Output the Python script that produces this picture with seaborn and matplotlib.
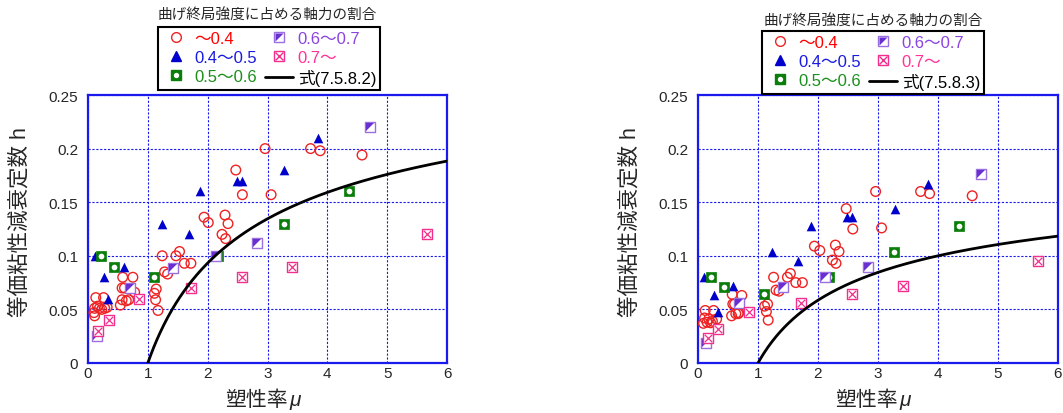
import numpy as np
import matplotlib.pyplot as plt
from matplotlib.lines import Line2D
import seaborn as sns

# ---------------- data (mu, h) ----------------
# left panel  -> 式(7.5.8.2)
l_red_mu = [2.96, 3.72, 3.88, 4.58, 2.47, 2.58, 3.06, 1.94, 2.01, 2.29, 2.34, 2.24, 2.30,
            1.24, 1.47, 1.53, 1.61, 1.72, 1.28, 1.33, 1.14, 1.11, 1.13, 1.17,
            0.58, 0.75, 0.57, 0.61, 0.78, 0.57, 0.64, 0.68, 0.54,
            0.13, 0.26, 0.11, 0.16, 0.19, 0.23, 0.28, 0.32, 0.10, 0.11]
l_red_h = [0.200, 0.200, 0.198, 0.194, 0.180, 0.157, 0.157, 0.136, 0.131, 0.138, 0.130, 0.120, 0.116,
           0.100, 0.100, 0.104, 0.093, 0.093, 0.085, 0.083, 0.069, 0.065, 0.059, 0.049,
           0.080, 0.080, 0.070, 0.070, 0.066, 0.059, 0.058, 0.059, 0.054,
           0.061, 0.061, 0.051, 0.053, 0.051, 0.050, 0.051, 0.052, 0.047, 0.044]
l_blue_mu = [3.84, 3.28, 2.49, 2.57, 1.87, 1.24, 1.68, 0.11, 0.60, 0.27, 0.34]
l_blue_h = [0.210, 0.180, 0.170, 0.170, 0.160, 0.130, 0.120, 0.100, 0.090, 0.080, 0.060]
l_green_mu = [0.22, 0.43, 1.10, 2.18, 3.27, 4.36]
l_green_h = [0.100, 0.090, 0.080, 0.100, 0.130, 0.160]
l_purple_mu = [0.15, 0.71, 1.42, 2.14, 2.83, 4.71]
l_purple_h = [0.025, 0.070, 0.089, 0.100, 0.112, 0.220]
l_pink_mu = [0.17, 0.35, 0.86, 1.72, 2.57, 3.41, 5.66]
l_pink_h = [0.030, 0.040, 0.060, 0.070, 0.080, 0.090, 0.120]

# right panel -> 式(7.5.8.3)
r_red_mu = [0.12, 0.26, 0.11, 0.18, 0.24, 0.31, 0.09, 0.15, 0.21,
            0.57, 0.73, 0.58, 0.61, 0.56, 0.63, 0.67, 0.68,
            1.11, 1.16, 1.14, 1.17,
            1.26, 1.30, 1.35, 1.49, 1.54, 1.63, 1.74,
            1.94, 2.03, 2.29, 2.35, 2.24, 2.30, 2.47, 2.58, 3.06, 2.96, 3.71, 3.86, 4.57]
r_red_h = [0.049, 0.049, 0.042, 0.041, 0.039, 0.041, 0.037, 0.038, 0.0375,
           0.064, 0.063, 0.055, 0.055, 0.044, 0.046, 0.046, 0.047,
           0.053, 0.055, 0.048, 0.040,
           0.080, 0.068, 0.067, 0.080, 0.0835, 0.075, 0.075,
           0.109, 0.105, 0.110, 0.104, 0.096, 0.093, 0.144, 0.125, 0.126, 0.160, 0.160, 0.158, 0.156]
r_blue_mu = [3.83, 3.28, 2.49, 2.57, 1.88, 1.24, 1.67, 0.105, 0.59, 0.26, 0.34]
r_blue_h = [0.167, 0.144, 0.136, 0.136, 0.128, 0.104, 0.095, 0.080, 0.072, 0.063, 0.048]
r_green_mu = [0.22, 0.43, 1.10, 2.19, 3.27, 4.35]
r_green_h = [0.080, 0.071, 0.064, 0.080, 0.104, 0.128]
r_purple_mu = [0.14, 0.69, 1.42, 2.12, 2.84, 4.71]
r_purple_h = [0.019, 0.056, 0.071, 0.080, 0.090, 0.176]
r_pink_mu = [0.16, 0.33, 0.85, 1.72, 2.57, 3.42, 5.66]
r_pink_h = [0.023, 0.032, 0.048, 0.056, 0.064, 0.072, 0.095]

legend_title = "曲げ終局強度に占める軸力の割合"
group_labels = ["～0.4", "0.4～0.5", "0.5～0.6", "0.6～0.7", "0.7～"]
eq_labels = ["式(7.5.8.2)", "式(7.5.8.3)"]
eq_coef = [1 / np.pi, 0.2]          # h = c * (1 - 1/sqrt(mu))
yticks = [0, 0.05, 0.1, 0.15, 0.2, 0.25]
ytick_labels = ["0", "0.05", "0.1", "0.15", "0.2", "0.25"]

C_RED = "#ee2222"
C_BLUE = "#0000cc"
C_GREEN = "#0a7d0a"
C_PURPLE = "#6a2fd0"
C_PURPLE_L = "#9a70e0"
C_PINK = "#f0308c"
TXT_COLORS = ["#ff0000", "#1a1ae0", "#1a8f1a", "#8a44e0", "#ff3399", "black"]
C_AX = "#1a1aee"

sns.set_style("white")
plt.rcParams['font.family'] = ['Liberation Sans', 'Noto Sans CJK JP']

TRI = [(-1, -1), (-1, 1), (1, 1)]   # upper-left half of a square


def draw_panel(ax, red, blue, green, purple, pink, coef):
    S = 48
    sns.scatterplot(x=red[0], y=red[1], ax=ax, marker='o', s=S, facecolors='none',
                    edgecolor=C_RED, linewidth=1.0, zorder=3)
    sns.scatterplot(x=blue[0], y=blue[1], ax=ax, marker='^', s=S, color=C_BLUE,
                    edgecolor=C_BLUE, linewidth=0, zorder=3)
    sns.scatterplot(x=green[0], y=green[1], ax=ax, marker='s', s=S, color=C_GREEN,
                    edgecolor=C_GREEN, linewidth=0.5, zorder=3)
    sns.scatterplot(x=green[0], y=green[1], ax=ax, marker='o', s=S * 0.35, color='white',
                    edgecolor='white', linewidth=0, zorder=3)
    sns.scatterplot(x=purple[0], y=purple[1], ax=ax, marker='s', s=S, facecolors='white',
                    edgecolor=C_PURPLE_L, linewidth=1.0, zorder=3)
    sns.scatterplot(x=purple[0], y=purple[1], ax=ax, marker=TRI, s=S * 0.8, color=C_PURPLE,
                    edgecolor=C_PURPLE, linewidth=0, zorder=3)
    sns.scatterplot(x=pink[0], y=pink[1], ax=ax, marker='s', s=S, facecolors='white',
                    edgecolor=C_PINK, linewidth=1.0, zorder=3)
    sns.scatterplot(x=pink[0], y=pink[1], ax=ax, marker='x', s=S * 0.6, color=C_PINK,
                    linewidth=0.9, zorder=3)

    mu = np.linspace(1, 6, 300)
    sns.lineplot(x=mu, y=coef * (1 - 1 / np.sqrt(mu)), ax=ax, color='black', lw=2, zorder=4)

    ax.set_xlim(0, 6)
    ax.set_ylim(0, 0.25)
    ax.set_xticks(range(7))
    ax.set_yticks(yticks)
    ax.set_yticklabels(ytick_labels)
    ax.grid(True, color=C_AX, linestyle=(0, (2, 1.5)), linewidth=0.8)
    for sp in ax.spines.values():
        sp.set_color(C_AX)
        sp.set_linewidth(1.6)
    ax.tick_params(axis='both', direction='in', length=4, color=C_AX, labelsize=11)
    ax.tick_params(axis='x', pad=2)
    ax.tick_params(axis='y', pad=7)
    ax.set_xlabel("")
    ax.set_ylabel("等価粘性減衰定数 h", fontsize=15.5)
    ax.yaxis.set_label_coords(-0.16, 0.53)
    ax.text(0.555, -0.135, "塑性率", transform=ax.transAxes, ha='right', va='center', fontsize=15)
    ax.text(0.56, -0.135, "μ", transform=ax.transAxes, ha='left', va='center', fontsize=15,
            style='italic')


def legend_handles(ms=7):
    h_red = Line2D([], [], marker='o', ls='none', mfc='none', mec=C_RED, ms=ms)
    h_blue = Line2D([], [], marker='^', ls='none', mfc=C_BLUE, mec=C_BLUE, ms=ms)
    h_green = (Line2D([], [], marker='s', ls='none', mfc=C_GREEN, mec=C_GREEN, ms=ms),
               Line2D([], [], marker='o', ls='none', mfc='white', mec='none', ms=ms * 0.55))
    h_purple = (Line2D([], [], marker='s', ls='none', mfc='white', mec=C_PURPLE_L, ms=ms),
                Line2D([], [], marker=TRI, ls='none', mfc=C_PURPLE, mec='none', ms=ms * 0.9))
    h_pink = (Line2D([], [], marker='s', ls='none', mfc='white', mec=C_PINK, ms=ms),
              Line2D([], [], marker='x', ls='none', mec=C_PINK, ms=ms * 0.75))
    h_line = Line2D([], [], color='black', lw=2)
    return [h_red, h_blue, h_green, h_purple, h_pink, h_line]


W, H = 1063, 414
fig = plt.figure(figsize=(W / 100, H / 100), dpi=100)
ax1 = fig.add_axes([88 / W, (H - 364) / H, 359 / W, 268 / H])
ax2 = fig.add_axes([698 / W, (H - 364) / H, 360 / W, 268 / H])

draw_panel(ax1, (l_red_mu, l_red_h), (l_blue_mu, l_blue_h), (l_green_mu, l_green_h),
           (l_purple_mu, l_purple_h), (l_pink_mu, l_pink_h), eq_coef[0])
draw_panel(ax2, (r_red_mu, r_red_h), (r_blue_mu, r_blue_h), (r_green_mu, r_green_h),
           (r_purple_mu, r_purple_h), (r_pink_mu, r_pink_h), eq_coef[1])

# legends sit above each panel, title outside the box
for (bx, by, tx, ty), eq in zip([(158, 28, 158, 16), (762, 32, 764, 22)], eq_labels):
    leg = fig.legend(legend_handles(), group_labels + [eq], loc='upper left',
                     bbox_to_anchor=(bx / W, 1 - by / H), ncol=2, frameon=True,
                     fancybox=False, edgecolor='black', framealpha=1, borderaxespad=0,
                     fontsize=12, handlelength=1.7, handletextpad=0.25,
                     columnspacing=0.5, labelspacing=0.25, borderpad=0.22)
    leg.get_frame().set_linewidth(1.5)
    for t, c in zip(leg.get_texts(), TXT_COLORS):
        t.set_color(c)
    fig.text(tx / W, 1 - ty / H, legend_title, fontsize=10.5, ha='left', va='center')

plt.savefig("out.png", dpi=100)
